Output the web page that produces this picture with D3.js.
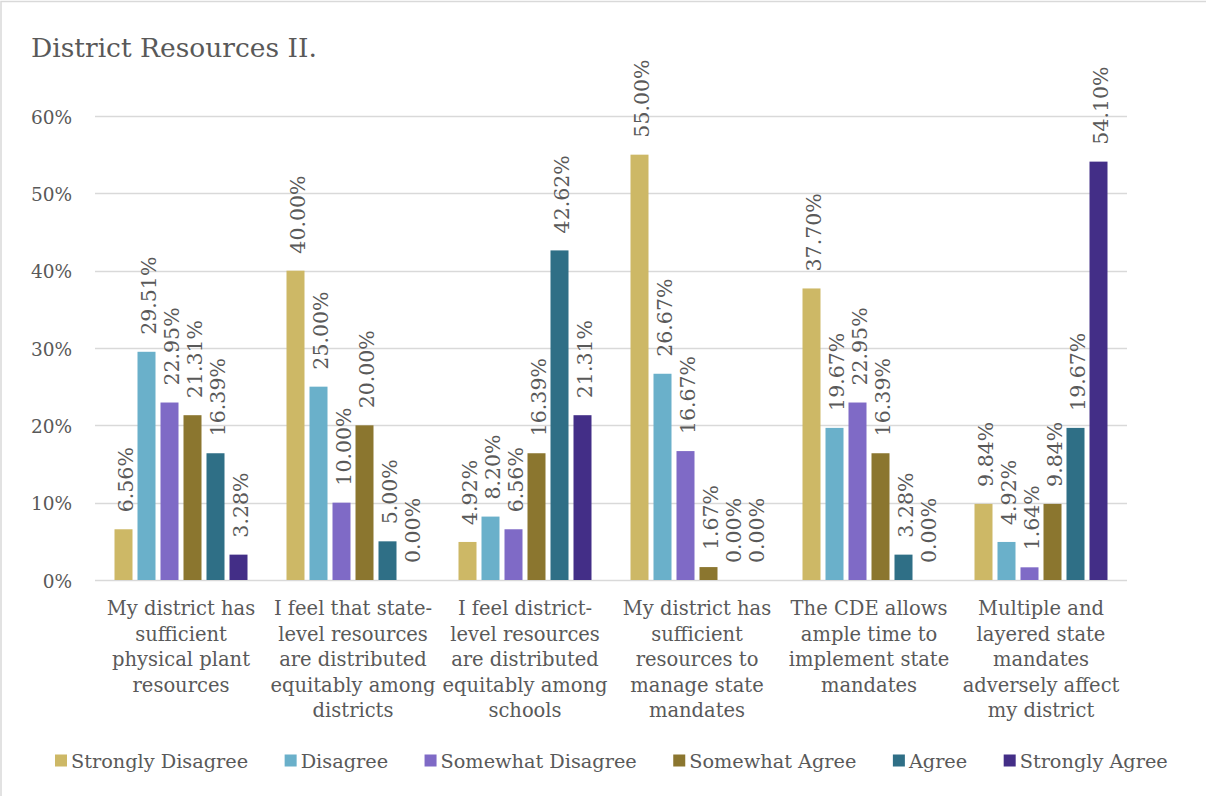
<!DOCTYPE html>
<html>
<head>
<meta charset="utf-8">
<script src="https://cdn.jsdelivr.net/npm/d3@7"></script>
<style>
  html, body { margin: 0; padding: 0; background: #fff; }
  svg { display: block; }
  text { font-family: "DejaVu Serif", serif; fill: #595959; }
</style>
</head>
<body>
<svg id="chart" width="1206" height="796"></svg>
<script>
const title = "District Resources II.";
const categoryLines = [
  ["My district has", "sufficient", "physical plant", "resources"],
  ["I feel that state-", "level resources", "are distributed", "equitably among", "districts"],
  ["I feel district-", "level resources", "are distributed", "equitably among", "schools"],
  ["My district has", "sufficient", "resources to", "manage state", "mandates"],
  ["The CDE allows", "ample time to", "implement state", "mandates"],
  ["Multiple and", "layered state", "mandates", "adversely affect", "my district"]
];
const categories = categoryLines.map(l => l.join(" "));
const seriesNames = ["Strongly Disagree", "Disagree", "Somewhat Disagree", "Somewhat Agree", "Agree", "Strongly Agree"];
const seriesColors = ["#CDB866", "#6AB0CA", "#7F6AC6", "#8B762F", "#2F6F86", "#432E87"];
const stronglyDisagree = [6.56, 40.00, 4.92, 55.00, 37.70, 9.84];
const disagree         = [29.51, 25.00, 8.20, 26.67, 19.67, 4.92];
const somewhatDisagree = [22.95, 10.00, 6.56, 16.67, 22.95, 1.64];
const somewhatAgree    = [21.31, 20.00, 16.39, 1.67, 16.39, 9.84];
const agree            = [16.39, 5.00, 42.62, 0.00, 3.28, 19.67];
const stronglyAgree    = [3.28, 0.00, 21.31, 0.00, 0.00, 54.10];
const seriesValues = [stronglyDisagree, disagree, somewhatDisagree, somewhatAgree, agree, stronglyAgree];
const yTicks = [0, 10, 20, 30, 40, 50, 60];

const svg = d3.select("#chart");

// outer frame
svg.append("rect").attr("x", 1).attr("y", 1.5).attr("width", 1400).attr("height", 1000)
  .attr("fill", "none").attr("stroke", "#d9d9d9").attr("stroke-width", 1.5);

svg.append("text").attr("x", 31).attr("y", 57).attr("font-size", 26.5).text(title);

const plotL = 95, plotR = 1127, plotT = 116, plotB = 580;
const x0 = d3.scaleBand().domain(categories).range([plotL, plotR]).paddingInner(0).paddingOuter(0);
const groupW = 133;
const x1 = d3.scaleBand().domain(seriesNames)
  .range([(x0.bandwidth() - groupW) / 2, (x0.bandwidth() + groupW) / 2])
  .paddingInner(5 / 23).paddingOuter(0);
const y = d3.scaleLinear().domain([0, 60]).range([plotB, plotT]);

// gridlines
svg.append("g").selectAll("line").data(yTicks).join("line")
  .attr("x1", plotL).attr("x2", plotR)
  .attr("y1", d => Math.round(y(d)) + 0.5).attr("y2", d => Math.round(y(d)) + 0.5)
  .attr("stroke", "#d9d9d9").attr("stroke-width", 1.3);

// y axis
const yAxis = svg.append("g").attr("transform", `translate(${plotL - 20},0)`)
  .call(d3.axisLeft(y).tickValues(yTicks).tickSize(0).tickFormat(d => d + "%"));
yAxis.select(".domain").remove();
yAxis.selectAll("text").attr("font-size", 18.5).attr("font-family", "DejaVu Serif").attr("fill", "#595959").attr("dy", "0.38em");

// bars
const groups = svg.append("g").selectAll("g").data(categories).join("g")
  .attr("transform", d => `translate(${x0(d)},0)`);

groups.each(function(cat, ci) {
  const g = d3.select(this);
  const rows = seriesNames.map((s, si) => ({ s, si, v: seriesValues[si][ci] }));
  g.selectAll("rect").data(rows).join("rect")
    .attr("x", d => x1(d.s))
    .attr("width", x1.bandwidth())
    .attr("y", d => y(d.v))
    .attr("height", d => y(0) - y(d.v))
    .attr("fill", d => seriesColors[d.si]);
  g.selectAll("text.lbl").data(rows).join("text").attr("class", "lbl")
    .attr("transform", d => `translate(${x1(d.s) + x1.bandwidth() / 2},${y(d.v) - 17}) rotate(-90)`)
    .attr("dy", "0.45em")
    .attr("font-size", 20.5)
    .attr("text-anchor", "start")
    .text(d => d.v.toFixed(2) + "%");
});

// x axis
const xAxis = svg.append("g").attr("transform", `translate(0,${plotB})`)
  .call(d3.axisBottom(x0).tickSize(0).tickFormat(""));
xAxis.select(".domain").remove();
xAxis.selectAll(".tick").each(function(d, i) {
  const t = d3.select(this).append("text")
    .attr("text-anchor", "middle").attr("font-size", 19.5)
    .attr("font-family", "DejaVu Serif").attr("fill", "#595959");
  categoryLines[i].forEach((line, li) => {
    t.append("tspan").attr("x", 0).attr("y", 35 + li * 25.5).text(line);
  });
});

// legend
const legend = svg.append("g");
let lx = 55;
seriesNames.forEach((s, i) => {
  legend.append("rect").attr("x", lx).attr("y", 754.5).attr("width", 12).attr("height", 12)
    .attr("fill", seriesColors[i]);
  const t = legend.append("text").attr("x", lx + 16).attr("y", 768).attr("font-size", 19.3).text(s);
  lx += 16 + t.node().getComputedTextLength() + 36.5;
});
</script>
</body>
</html>
